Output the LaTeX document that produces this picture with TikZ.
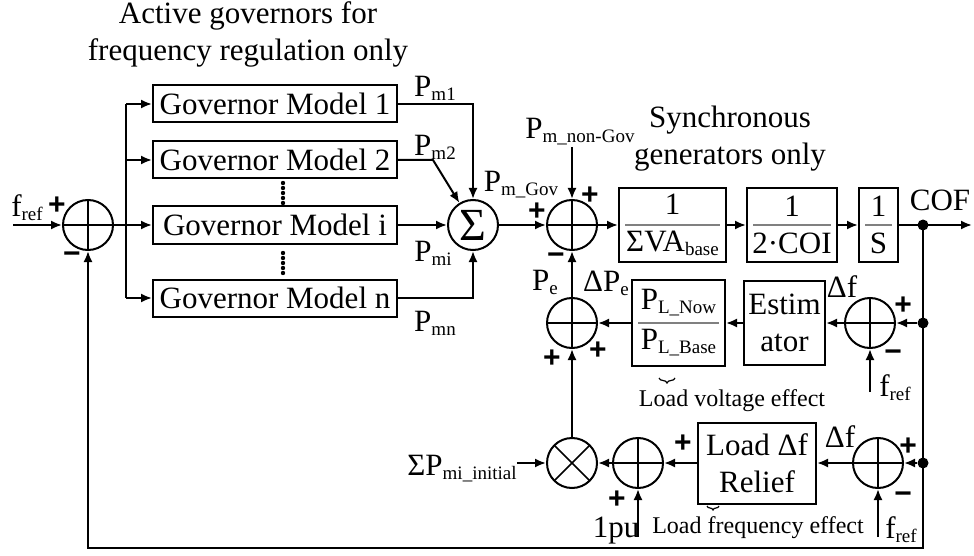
\documentclass[tikz,border=0pt]{standalone}
\usepackage{fontspec}
\setmainfont{Liberation Serif}
\setsansfont{Liberation Sans}
\usetikzlibrary{arrows.meta,decorations.pathreplacing}
\newcommand{\sbs}[1]{\raisebox{-4pt}{\fontsize{19}{19}\selectfont #1}}
\tikzset{
  blk/.style={draw, line width=2pt, inner sep=0pt, align=center},
  sumc/.style={circle, draw, line width=2pt, minimum size=50pt, inner sep=0pt,
    path picture={\draw[line width=1.6pt]
      (path picture bounding box.north) -- (path picture bounding box.south)
      (path picture bounding box.west) -- (path picture bounding box.east);}},
  mulc/.style={circle, draw, line width=2pt, minimum size=50pt, inner sep=0pt,
    path picture={\draw[line width=1.6pt]
      (path picture bounding box.north west) -- (path picture bounding box.south east)
      (path picture bounding box.north east) -- (path picture bounding box.south west);}},
  frl/.style={path picture={\draw[gray, line width=1.2pt]
      ([xshift=6pt]path picture bounding box.west) -- ([xshift=-6pt]path picture bounding box.east);}},
  sig/.style={line width=2pt, -{Latex[length=11pt,width=9pt]}},
  wire/.style={line width=2pt},
  jdot/.style={circle, fill, minimum size=11pt, inner sep=0pt},
  sgn/.style={font=\fontsize{30}{30}\selectfont\sffamily\bfseries, inner sep=0pt},
  lbl/.style={inner sep=0pt},
  small/.style={inner sep=0pt, font=\fontsize{24}{24}\selectfont},
}
\begin{document}
\begin{tikzpicture}[x=1pt, y=-1pt, font=\fontsize{31}{37}\selectfont]
\useasboundingbox (0,0) rectangle (974,556);
\def\ym{225}  % Hauptsignal
\def\yu{323}  % obere Rueckfuehrung
\def\yl{463}  % untere Rueckfuehrung

% =========================================================
% Ueberschriften
% =========================================================
\node[lbl, align=center] (tgov) at (248,34) {Active governors for\\frequency regulation only};
\node[lbl, align=center] (tsyn) at (730,139) {Synchronous\\generators only};

% =========================================================
% Eingang und Governor-Zweige
% =========================================================
\node[sumc] (s0) at (88,\ym) {};
\coordinate (fin) at (13,\ym);
\node[lbl] (lfin) at (27,208) {f\sbs{ref}};
\node[sgn] (pa) at (57,206) {+};
\node[sgn] (ma) at (72,258) {−};
\draw[sig] (fin) -- (s0);

\foreach \k/\yy in {1/104, 2/160, i/\ym, n/298}
  \node[blk, minimum width=244pt, minimum height=37pt] (g\k) at (275,\yy) {Governor Model \k};
% Punkte zwischen den Modellen
\foreach \yy in {183,188,...,203} \fill (283,\yy) circle (2.2pt);
\foreach \yy in {253,258,...,273} \fill (283,\yy) circle (2.2pt);

\coordinate (bt) at (126,104);
\coordinate (bb) at (126,298);
\draw[sig] (s0) -- (gi);
\draw[wire] (bt) -- (bb);
\draw[sig] (bt) -- (g1.west);
\draw[sig] (bt |- g2) -- (g2.west);
\draw[sig] (bb) -- (gn.west);

% Summe der Governor-Leistungen
\node[circle, draw, line width=2pt, minimum size=50pt, inner sep=0pt,
  font=\fontsize{46}{46}\selectfont] (sg) at (473,\ym) {Σ};
\draw[sig] (g1.east) -| (sg.north);
\draw[sig] (g2.east) -- ++(35,0) -- (sg);
\draw[sig] (gi) -- (sg);
\draw[sig] (gn.east) -| (sg.south);
\node[lbl] (lpm1) at (435,88) {P\sbs{m1}};
\node[lbl] (lpm2) at (435,147) {P\sbs{m2}};
\node[lbl] (lpmi) at (433,253) {P\sbs{mi}};
\node[lbl] (lpmn) at (435,323) {P\sbs{mn}};

% =========================================================
% Synchrongeneratoren
% =========================================================
\node[sumc] (s1) at (572,\ym) {};
\node[lbl] (lpg) at (521,185) {P\sbs{m\_Gov}};
\node[lbl] (lpn) at (580,132) {P\sbs{m\_non-Gov}};
\coordinate (pnin) at (572,147);
\node[sgn] (pb) at (537,212) {+};
\node[sgn] (pc) at (590,196) {+};
\node[sgn] (mb) at (556,259) {−};

\node[blk, frl, minimum width=107pt, minimum height=74pt] (va) at (672.5,\ym) {1\\ΣVA\sbs{base}};
\node[blk, frl, minimum width=90pt, minimum height=74pt] (coi) at (792,\ym) {1\\2·COI};
\node[blk, frl, minimum width=39pt, minimum height=74pt] (sbx) at (878.5,\ym) {1\\S};
\node[jdot] (dcof) at (923,\ym) {};
\coordinate (cout) at (972,\ym);
\node[lbl] (lcof) at (940,200) {COF};

\draw[sig] (sg) -- (s1);
\draw[sig] (pnin) -- (s1.north);
\draw[sig] (s1) -- (va);
\draw[sig] (va) -- (coi);
\draw[sig] (coi) -- (sbx);
\draw[sig] (sbx) -- (cout);

% =========================================================
% Rueckfuehrung: Lastspannungseffekt
% =========================================================
\node[sumc] (s2) at (572,\yu) {};
\node[blk, frl, minimum width=93pt, minimum height=86pt,
  font=\fontsize{31}{40}\selectfont] (pl) at (678.5,\yu) {P\sbs{L\_Now}\\P\sbs{L\_Base}};
\node[blk, minimum width=81pt, minimum height=84pt] (est) at (784.5,\yu) {Estim\\ator};
\node[sumc] (s3) at (870,\yu) {};
\node[jdot] (dup) at (923,\yu) {};
\coordinate (fr1) at (870,392);
\node[lbl] (lfr1) at (895,388) {f\sbs{ref}};
\node[lbl] (lpe) at (545,282) {P\sbs{e}};
\node[lbl] (ldpe) at (606,283) {ΔP\sbs{e}};
\node[lbl] (ldf1) at (842,287) {Δf};
\node[sgn] (pd) at (552,359) {+};
\node[sgn] (pe) at (598,351) {+};
\node[sgn] (pf) at (903,306) {+};
\node[sgn] (mc) at (893,356) {−};

\draw[sig] (dup) -- (s3);
\draw[sig] (fr1) -- (s3);
\draw[sig] (s3) -- (est);
\draw[sig] (est) -- (pl);
\draw[sig] (pl) -- (s2);
\draw[sig] (s2) -- (s1);

\draw[decorate, decoration={brace, mirror, amplitude=5pt}, line width=1.2pt] (659,378) -- (675,378);
\node[small] (tlv) at (732,401) {Load voltage effect};

% =========================================================
% Rueckfuehrung: Lastfrequenzeffekt
% =========================================================
\node[mulc] (m1) at (572,\yl) {};
\node[sgn] (pg) at (683,444) {+};
\node[sumc] (s4) at (638,\yl) {};
\node[blk, minimum width=118pt, minimum height=81pt] (rel) at (757,\yl) {Load Δf\\Relief};
\node[sumc] (s5) at (878,\yl) {};
\node[jdot] (dlo) at (923,\yl) {};
\coordinate (fr2) at (878,537);
\coordinate (one) at (638,537);
\node[lbl] (lfr2) at (901,530) {f\sbs{ref}};
\node[lbl] (lone) at (616,531) {1pu};
\node[lbl] (lpmi0) at (462,469) {ΣP\sbs{mi\_initial}};
\node[lbl] (ldf2) at (840,437) {Δf};
\node[sgn] (ph) at (617,500) {+};
\node[sgn] (pi) at (908,447) {+};
\node[sgn] (md) at (903,498) {−};

\draw[sig] (dlo) -- (s5);
\draw[sig] (fr2) -- (s5);
\draw[sig] (s5) -- (rel);
\draw[sig] (rel) -- (s4);
\draw[sig] (one) -- (s4);
\draw[sig] (s4) -- (m1);
\draw[sig] (lpmi0.east |- m1) -- (m1);
\draw[sig] (m1) -- (s2);

\draw[decorate, decoration={brace, mirror, amplitude=4pt}, line width=1.2pt] (707,506) -- (719,506);
\node[small] (tlf) at (758,528) {Load frequency effect};

% =========================================================
% Rueckfuehrung COF zum Eingang
% =========================================================
\coordinate (fb) at (923,548);
\draw[sig] (dcof.center) -- (fb) -| (s0.south);

\end{tikzpicture}
\end{document}
